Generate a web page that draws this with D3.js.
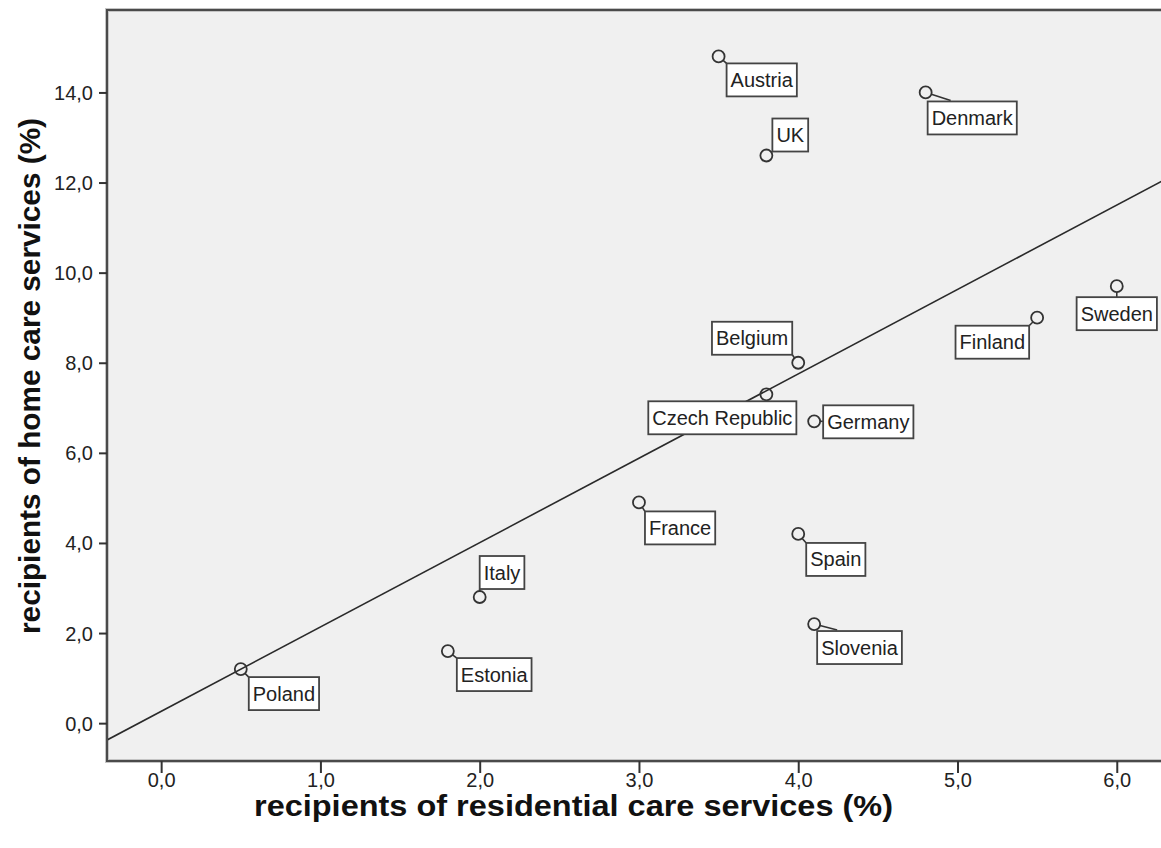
<!DOCTYPE html>
<html>
<head>
<meta charset="utf-8">
<script src="https://cdn.jsdelivr.net/npm/d3@7"></script>
<style>
  html, body { margin: 0; padding: 0; background: #ffffff; }
  svg { display: block; }
</style>
</head>
<body>
<svg id="chart" width="1161" height="848"></svg>
<script>
// Country values: share of older people receiving residential vs. home care (%)
const countries   = ["Austria", "Denmark", "UK", "Sweden", "Finland", "Belgium", "Czech Republic",
                     "Germany", "France", "Spain", "Italy", "Slovenia", "Estonia", "Poland"];
const residential = [3.5, 4.8, 3.8, 6.0, 5.5, 4.0, 3.8, 4.1, 3.0, 4.0, 2.0, 4.1, 1.8, 0.5];
const homeCare    = [14.8, 14.0, 12.6, 9.7, 9.0, 8.0, 7.3, 6.7, 4.9, 4.2, 2.8, 2.2, 1.6, 1.2];

const xTicks = [0, 1, 2, 3, 4, 5, 6];
const yTicks = [0, 2, 4, 6, 8, 10, 12, 14];

const xTitle = "recipients of residential care services (%)";
const yTitle = "recipients of home care services (%)";

// Where each label box sits relative to its point: which corner is anchored,
// the corner's offset in px, and an optional leader-line end point.
const labelPlacement = {
  "Austria":        { corner: "tl", dx: 8,   dy: 7 },
  "Denmark":        { corner: "tl", dx: 2,   dy: 9,  link: [25, 8] },
  "UK":             { corner: "bl", dx: 6,   dy: -4 },
  "Sweden":         { corner: "tc", dx: 0,   dy: 11 },
  "Finland":        { corner: "tr", dx: -8,  dy: 8 },
  "Belgium":        { corner: "br", dx: -6,  dy: -8 },
  "Czech Republic": { corner: "tr", dx: 30,  dy: 7 },
  "Germany":        { corner: "tl", dx: 9,   dy: -16 },
  "France":         { corner: "tl", dx: 6,   dy: 9 },
  "Spain":          { corner: "tl", dx: 8,   dy: 9 },
  "Italy":          { corner: "bl", dx: 0,   dy: -8 },
  "Slovenia":       { corner: "tl", dx: 3,   dy: 7,  link: [23, 6] },
  "Estonia":        { corner: "tl", dx: 9,   dy: 7 },
  "Poland":         { corner: "tl", dx: 8,   dy: 8 }
};

const data = countries.map((c, i) => ({ name: c, x: residential[i], y: homeCare[i] }));

const svg = d3.select("#chart");
const plot = { left: 107, top: 10, right: 1180, bottom: 761 };

const x = d3.scaleLinear().domain([-0.34, 6.397]).range([plot.left, plot.right]);
const y = d3.scaleLinear().domain([-0.84, 15.83]).range([plot.bottom, plot.top]);

const fmt = v => d3.format(".1f")(v).replace(".", ",");
const FONT = "'Liberation Sans', Arial, sans-serif";

// Plot background and frame (with a soft outer edge)
svg.append("rect")
  .attr("x", plot.left).attr("y", plot.top)
  .attr("width", plot.right - plot.left).attr("height", plot.bottom - plot.top)
  .attr("fill", "#f0f0f0")
  .attr("stroke", "#c4c4c4").attr("stroke-width", 4);
svg.append("rect")
  .attr("x", plot.left).attr("y", plot.top)
  .attr("width", plot.right - plot.left).attr("height", plot.bottom - plot.top)
  .attr("fill", "none")
  .attr("stroke", "#4a4a4a").attr("stroke-width", 2);

svg.append("clipPath").attr("id", "plotClip")
  .append("rect")
  .attr("x", plot.left + 1).attr("y", plot.top + 1)
  .attr("width", plot.right - plot.left - 2).attr("height", plot.bottom - plot.top - 2);

// Axes
const xAxis = d3.axisBottom(x).tickValues(xTicks).tickFormat(fmt).tickSize(12);
const yAxis = d3.axisLeft(y).tickValues(yTicks).tickFormat(fmt).tickSize(8).tickPadding(6);

const gx = svg.append("g").attr("transform", `translate(0,${plot.bottom})`).call(xAxis);
const gy = svg.append("g").attr("transform", `translate(${plot.left},0)`).call(yAxis);
[gx, gy].forEach(g => {
  g.select(".domain").remove();
  g.selectAll(".tick line").attr("stroke", "#333").attr("stroke-width", 2);
  g.selectAll(".tick text")
    .attr("fill", "#222")
    .style("font-family", FONT).style("font-size", "20px");
});
gx.selectAll(".tick text").attr("y", 26).attr("dy", 0);
gy.selectAll(".tick text").attr("dy", "0.35em");

// Axis titles
svg.append("text")
  .attr("x", 254).attr("y", 816)
  .attr("textLength", 639).attr("lengthAdjust", "spacingAndGlyphs")
  .style("font-family", FONT).style("font-size", "29px").style("font-weight", "bold")
  .attr("fill", "#111")
  .text(xTitle);
svg.append("text")
  .attr("transform", "translate(40,634) rotate(-90)")
  .attr("x", 0).attr("y", 0)
  .attr("textLength", 516).attr("lengthAdjust", "spacingAndGlyphs")
  .style("font-family", FONT).style("font-size", "29px").style("font-weight", "bold")
  .attr("fill", "#111")
  .text(yTitle);

// Least-squares fit line
const mx = d3.mean(data, d => d.x), my = d3.mean(data, d => d.y);
const slope = d3.sum(data, d => (d.x - mx) * (d.y - my)) / d3.sum(data, d => (d.x - mx) ** 2);
const intercept = my - slope * mx;
const [x0, x1] = x.domain();
svg.append("g").attr("clip-path", "url(#plotClip)")
  .append("line")
  .attr("x1", x(x0)).attr("y1", y(intercept + slope * x0))
  .attr("x2", x(x1)).attr("y2", y(intercept + slope * x1))
  .attr("stroke", "#2a2a2a").attr("stroke-width", 1.6);

// Points
const R = 6;
const pts = svg.append("g").attr("clip-path", "url(#plotClip)");
pts.selectAll("circle").data(data).join("circle")
  .attr("cx", d => x(d.x)).attr("cy", d => y(d.y)).attr("r", R)
  .attr("fill", "none").attr("stroke", "#333").attr("stroke-width", 1.8);

// Labels with boxes and leader lines
const labels = svg.append("g");
data.forEach(d => {
  const px = x(d.x), py = y(d.y);
  const p = labelPlacement[d.name];
  const t = labels.append("text")
    .style("font-family", FONT).style("font-size", "20px").attr("fill", "#222")
    .text(d.name);
  const tw = t.node().getComputedTextLength();
  const bw = tw + 8, bh = 33;
  let bx, by;
  const cx = px + p.dx, cy = py + p.dy;
  switch (p.corner) {
    case "tl": bx = cx;          by = cy; break;
    case "tr": bx = cx - bw;     by = cy; break;
    case "bl": bx = cx;          by = cy - bh; break;
    case "br": bx = cx - bw;     by = cy - bh; break;
    case "tc": bx = cx - bw / 2; by = cy; break;
  }
  // leader line from the circle edge to the box
  let ex, ey;
  if (p.link) { ex = px + p.link[0]; ey = py + p.link[1]; }
  else {
    ex = Math.max(bx, Math.min(px, bx + bw));
    ey = Math.max(by, Math.min(py, by + bh));
  }
  const dist = Math.hypot(ex - px, ey - py);
  if (dist > R) {
    const ux = (ex - px) / dist, uy = (ey - py) / dist;
    labels.insert("line", "text")
      .attr("x1", px + ux * R).attr("y1", py + uy * R)
      .attr("x2", ex).attr("y2", ey)
      .attr("stroke", "#333").attr("stroke-width", 1.6);
  }
  labels.insert("rect", "text")
    .attr("x", bx).attr("y", by).attr("width", bw).attr("height", bh)
    .attr("fill", "#ffffff").attr("stroke", "#444").attr("stroke-width", 1.8);
  t.attr("x", bx + bw / 2).attr("y", by + bh / 2).attr("dy", "0.35em")
    .attr("text-anchor", "middle");
});
</script>
</body>
</html>
